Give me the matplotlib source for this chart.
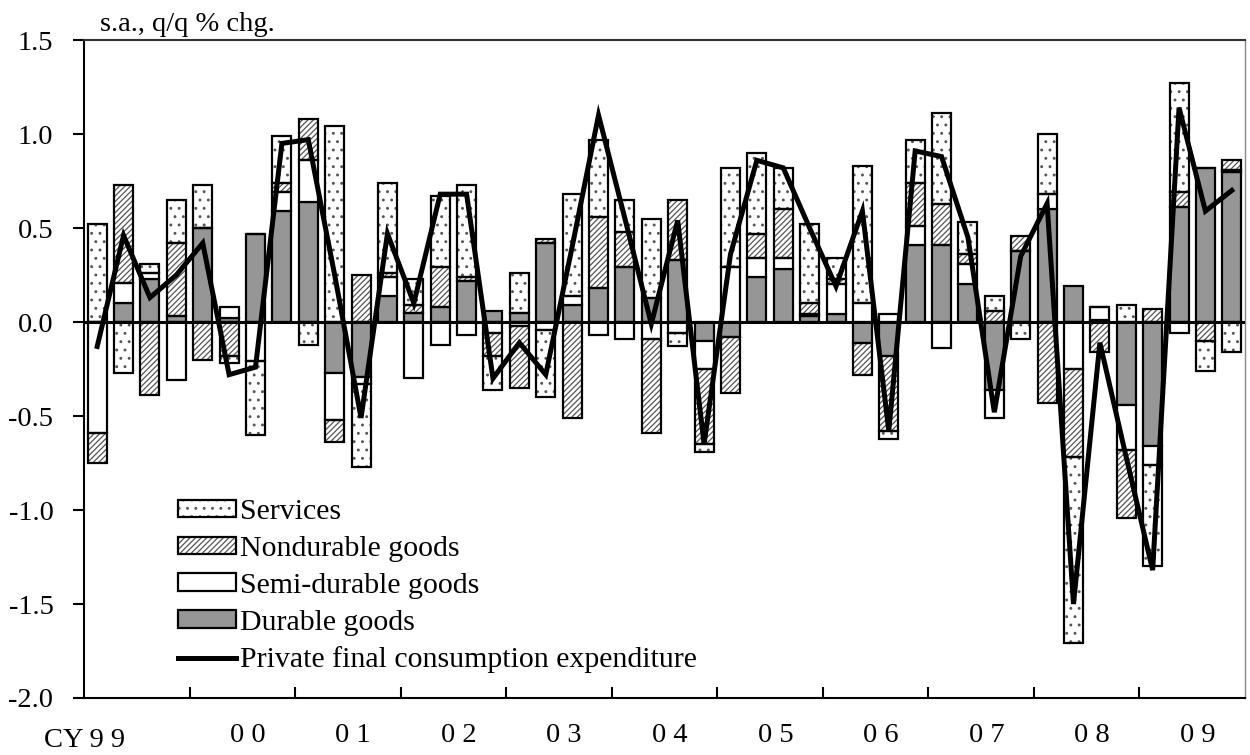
import numpy as np
import matplotlib
matplotlib.use("Agg")
import matplotlib.pyplot as plt
from matplotlib.patches import Patch
from matplotlib.lines import Line2D
from matplotlib.legend_handler import HandlerTuple

plt.rcParams['font.family'] = ['Liberation Serif', 'DejaVu Serif']
plt.rcParams['hatch.linewidth'] = 0.9

years = ["CY 9 9", "0 0", "0 1", "0 2", "0 3", "0 4", "0 5", "0 6", "0 7", "0 8", "0 9"]

# contributions, 1999Q1 .. 2009Q4
durable = [0.00, 0.10, 0.23, 0.03, 0.50, 0.02, 0.47, 0.59,
           0.64, -0.27, -0.29, 0.14, 0.05, 0.08, 0.22, 0.06,
           0.05, 0.42, 0.09, 0.18, 0.29, 0.13, 0.33, -0.10,
           -0.08, 0.24, 0.28, 0.03, 0.04, -0.11, -0.18, 0.41,
           0.41, 0.20, -0.36, 0.38, 0.60, 0.19, 0.01, -0.44,
           -0.66, 0.61, 0.82, 0.80]
semi = [-0.59, 0.11, 0.03, -0.31, 0.00, 0.06, -0.21, 0.10,
        0.22, -0.25, -0.04, 0.10, -0.30, -0.12, -0.07, -0.06,
        -0.02, -0.04, 0.05, -0.07, -0.09, -0.09, -0.06, -0.15,
        0.29, 0.10, 0.06, 0.01, 0.16, 0.10, 0.04, 0.10,
        -0.14, 0.11, -0.15, 0.00, 0.08, -0.25, 0.07, -0.24,
        -0.10, -0.06, 0.00, 0.01]
nondur = [-0.16, 0.52, -0.39, 0.39, -0.20, -0.18, 0.00, 0.05,
          0.22, -0.12, 0.25, 0.02, 0.04, 0.21, 0.02, -0.12,
          -0.33, 0.02, -0.51, 0.38, 0.19, -0.50, 0.32, -0.40,
          -0.30, 0.13, 0.26, 0.06, 0.03, -0.17, -0.40, 0.23,
          0.22, 0.05, 0.06, 0.08, -0.43, -0.47, -0.16, -0.36,
          0.07, 0.08, -0.10, 0.05]
services = [0.52, -0.27, 0.05, 0.23, 0.23, -0.04, -0.39, 0.25,
            -0.12, 1.04, -0.44, 0.48, 0.14, 0.38, 0.49, -0.18,
            0.21, -0.36, 0.54, 0.41, 0.17, 0.42, -0.07, -0.04,
            0.53, 0.43, 0.22, 0.42, 0.11, 0.73, -0.04, 0.23,
            0.48, 0.17, 0.08, -0.09, 0.32, -0.99, 0.00, 0.09,
            -0.54, 0.58, -0.16, -0.16]
pfce = [-0.13, 0.46, 0.13, 0.25, 0.42, -0.28, -0.24, 0.95,
        0.97, 0.25, -0.51, 0.47, 0.10, 0.68, 0.68, -0.30,
        -0.11, -0.28, 0.40, 1.10, 0.55, -0.01, 0.54, -0.65,
        0.36, 0.86, 0.82, 0.50, 0.19, 0.59, -0.58, 0.91,
        0.88, 0.45, -0.48, 0.35, 0.63, -1.50, -0.11, -0.72,
        -1.32, 1.14, 0.59, 0.70]

series = [
    ("Durable goods", durable, "#969696", None),
    ("Semi-durable goods", semi, "white", None),
    ("Nondurable goods", nondur, "white", "//////"),
    ("Services", services, "white", ".."),
]

FS = 20.5
x = np.arange(len(pfce))
w = 0.72

fig = plt.figure(figsize=(12.5, 7.55), dpi=100)
ax = fig.add_axes([0.0672, 0.0755, 0.9288, 0.8715])

pos = np.zeros(len(x))
neg = np.zeros(len(x))
handles = {}
for name, vals, fc, hatch in series:
    v = np.array(vals)
    bottom = np.where(v >= 0, pos, neg)
    if hatch:
        ax.bar(x, v, w, bottom=bottom, color=fc, edgecolor="#555555",
               hatch=hatch, linewidth=0, zorder=2)
        ax.bar(x, v, w, bottom=bottom, fill=False, edgecolor="black",
               linewidth=1.6, zorder=3)
        handles[name] = (Patch(facecolor=fc, edgecolor="#555555", hatch=hatch, linewidth=0),
                         Patch(fill=False, edgecolor="black", linewidth=1.6))
    else:
        ax.bar(x, v, w, bottom=bottom, color=fc, edgecolor="black",
               linewidth=1.6, zorder=3)
        handles[name] = Patch(facecolor=fc, edgecolor="black", linewidth=1.6)
    pos = pos + np.where(v >= 0, v, 0)
    neg = neg + np.where(v < 0, v, 0)

ax.axhline(0, color="black", linewidth=2.2, zorder=4)
ax.plot(x, pfce, color="black", linewidth=3.6, zorder=5, solid_joinstyle="miter")

ax.set_xlim(-0.5, len(x) - 0.5)
ax.set_ylim(-2.0, 1.5)
yt = np.arange(-2.0, 1.51, 0.5)
ax.set_yticks(yt)
ax.set_yticklabels(["%.1f" % t for t in yt])
ax.tick_params(axis="y", direction="out", length=8, width=1.5,
               labelsize=FS, pad=14)

ax.set_xticks(np.arange(3.5, len(x) - 1, 4))
ax.set_xticklabels([])
ax.tick_params(axis="x", direction="in", length=8, width=1.5)
ax.set_xticks(np.arange(1.5, len(x), 4) + 0.2, minor=True)
ax.set_xticklabels([""] + years[1:], minor=True)
ax.tick_params(axis="x", which="minor", length=0, labelsize=FS, pad=18)
ax.text(1.05, -0.064, years[0], transform=ax.get_xaxis_transform(),
        ha="right", va="center", fontsize=FS)

for s in ax.spines.values():
    s.set_linewidth(1.5)
ax.spines["top"].set_color("#333333")
ax.spines["right"].set_color("#888888")
ax.spines["right"].set_linewidth(1.0)

ax.text(0.014, 1.004, "s.a., q/q % chg.", transform=ax.transAxes,
        ha="left", va="bottom", fontsize=FS)

order = ["Services", "Nondurable goods", "Semi-durable goods", "Durable goods"]
leg_h = [handles[n] for n in order] + [Line2D([], [], color="black", linewidth=3.6)]
leg_l = order + ["Private final consumption expenditure"]
ax.legend(leg_h, leg_l, loc="upper left", bbox_to_anchor=(0.081, 0.302),
          frameon=False, fontsize=21.5, handlelength=1.95, handleheight=0.52,
          handletextpad=0.12, labelspacing=0.36, borderaxespad=0, borderpad=0,
          handler_map={tuple: HandlerTuple(ndivide=1)})

fig.savefig("out.png", dpi=100)
